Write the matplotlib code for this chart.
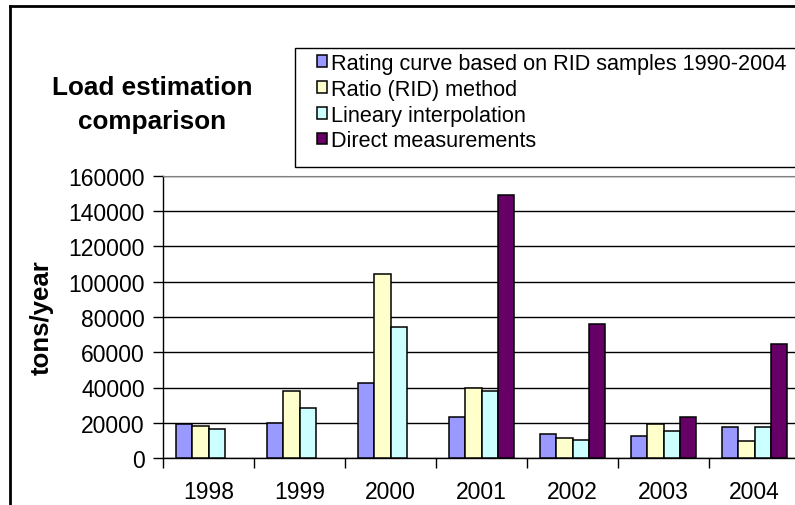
import numpy as np
import matplotlib.pyplot as plt
from matplotlib.lines import Line2D
from matplotlib.patches import Rectangle

plt.rcParams['font.family'] = ['Liberation Sans', 'DejaVu Sans']

years = ['1998', '1999', '2000', '2001', '2002', '2003', '2004']
rating_curve = [19100, 19900, 42700, 23100, 13400, 12700, 17400]
ratio_rid = [18200, 38200, 104600, 39900, 11600, 19100, 9700]
linear_interp = [16400, 28600, 74100, 38200, 10400, 15300, 17400]
direct = [np.nan, np.nan, np.nan, 149200, 76000, 23100, 64900]

series = [
    ('Rating curve based on RID samples 1990-2004', rating_curve, '#9999FF'),
    ('Ratio (RID) method', ratio_rid, '#FFFFCC'),
    ('Lineary interpolation', linear_interp, '#CCFFFF'),
    ('Direct measurements', direct, '#660066'),
]

fig = plt.figure(figsize=(7.95, 5.06), dpi=100)
ax = fig.add_axes([163 / 795, 47 / 506, 637 / 795, 282 / 506])

x = np.arange(len(years))
w = 0.18
for i, (name, vals, col) in enumerate(series):
    ax.bar(x + (i - 1.5) * w, vals, w, color=col, edgecolor='black',
           linewidth=1.1, label=name, zorder=3)

ax.set_xlim(-0.5, 6.5)
ax.set_ylim(0, 160000)
ax.set_yticks(np.arange(0, 160001, 20000))
ax.yaxis.grid(True, color='black', linewidth=1, zorder=0)
ax.tick_params(axis='y', direction='out', length=7, width=1, labelsize=16.5, pad=6)

ax.set_xticks(x)
ax.set_xticklabels(years)
ax.set_xticks(np.arange(-0.5, 7, 1), minor=True)
ax.tick_params(axis='x', which='major', length=0, labelsize=16.5, pad=16)
ax.tick_params(axis='x', which='minor', direction='out', length=7, width=1)

ax.spines['right'].set_visible(False)
ax.spines['top'].set_color('#808080')
ax.spines['left'].set_linewidth(1)
ax.spines['bottom'].set_linewidth(1)

ax.set_ylabel('tons/year', fontsize=18.5, fontweight='bold')
ax.yaxis.set_label_coords(-0.172, 0.5)

fig.text(152 / 795, 1 - 105 / 506, 'Load estimation\ncomparison', ha='center',
         va='center', fontsize=18.8, fontweight='bold', linespacing=1.5)

# legend box (runs off the right edge like the original)
fig.add_artist(Rectangle((295 / 795, 1 - 168 / 506), 520 / 795, 119 / 506,
                         transform=fig.transFigure, facecolor='white',
                         edgecolor='black', linewidth=1, zorder=4))
leg = fig.legend(loc='upper left', bbox_to_anchor=(317 / 795, 1 - 54 / 506),
                 fontsize=15.6, frameon=False, handlelength=0.46,
                 handleheight=0.46, handletextpad=0.2, labelspacing=0.22,
                 borderpad=0, borderaxespad=0)
leg.set_zorder(5)

# outer chart frame
fig.add_artist(Line2D([10 / 795, 10 / 795], [0, 1 - 7 / 506], color='black', linewidth=2))
fig.add_artist(Line2D([10 / 795, 1], [1 - 7 / 506, 1 - 7 / 506], color='black', linewidth=2))

plt.savefig('out.png', dpi=100)
